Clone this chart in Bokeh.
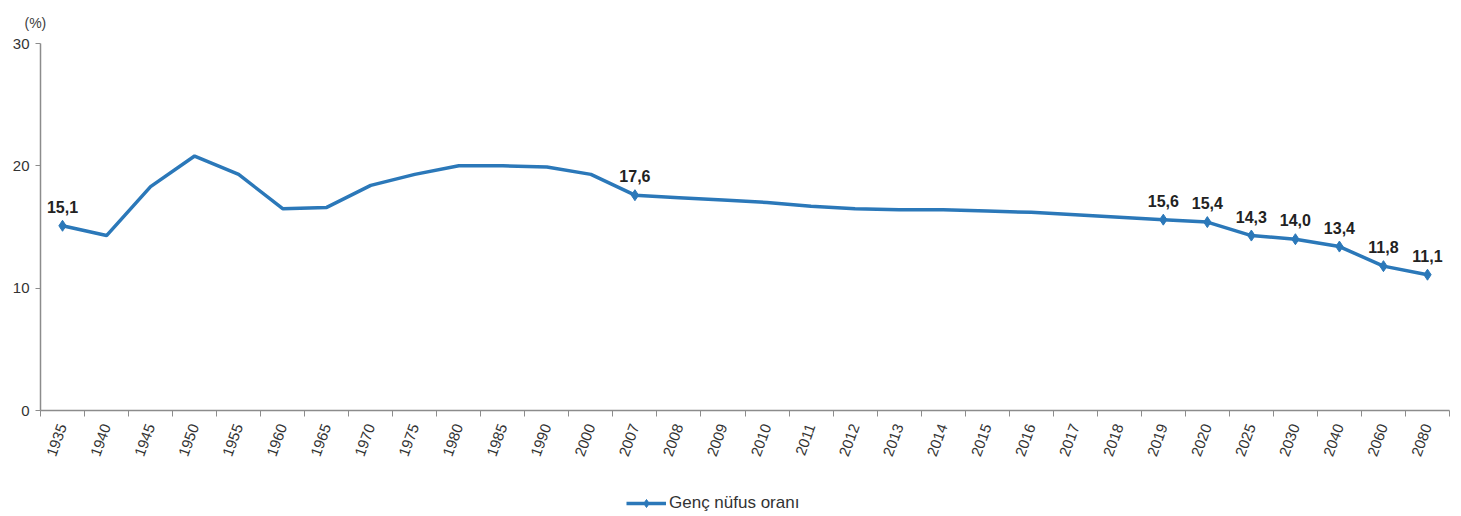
from bokeh.plotting import figure
from bokeh.layouts import column
from bokeh.models import (Range1d, FixedTicker, Legend, LegendItem, ColumnDataSource, Title)
from bokeh.core.properties import value
from bokeh.embed import file_html
from bokeh.resources import INLINE

years = ["1935", "1940", "1945", "1950", "1955", "1960", "1965", "1970", "1975", "1980",
         "1985", "1990", "2000", "2007", "2008", "2009", "2010", "2011", "2012", "2013",
         "2014", "2015", "2016", "2017", "2018", "2019", "2020", "2025", "2030", "2040",
         "2060", "2080"]
youth_share = [15.1, 14.3, 18.3, 20.8, 19.3, 16.5, 16.6, 18.4, 19.3, 20.0,
               20.0, 19.9, 19.3, 17.6, 17.4, 17.2, 17.0, 16.7, 16.5, 16.4,
               16.4, 16.3, 16.2, 16.0, 15.8, 15.6, 15.4, 14.3, 14.0, 13.4,
               11.8, 11.1]
labelled_years = ["1935", "2007", "2019", "2020", "2025", "2030", "2040", "2060", "2080"]
y_ticks = [0, 10, 20, 30]
series_name = "Genç nüfus oranı"

FONT = "Liberation Sans"
BLUE = "#2b78b9"
GREY = "#8c8c8c"
W = 1453

xs = list(range(len(years)))
src = ColumnDataSource(dict(x=xs, y=youth_share))
lab_idx = [years.index(y) for y in labelled_years]
lab_src = ColumnDataSource(dict(
    x=[xs[i] for i in lab_idx],
    y=[youth_share[i] for i in lab_idx],
    t=[f"{youth_share[i]:.1f}".replace(".", ",") for i in lab_idx],
))

p = figure(width=W, height=480, output_backend="svg", toolbar_location=None,
           x_range=Range1d(-0.5, len(years) - 0.5), y_range=Range1d(0, 30),
           min_border_left=40, min_border_right=4, min_border_top=42, min_border_bottom=70)
p.outline_line_color = None
p.xgrid.visible = False
p.ygrid.visible = False

t = Title(text="(%)", align="left", offset=-16, standoff=25, text_font=FONT,
          text_font_size="14px", text_font_style="normal", text_color="#404040")
p.add_layout(t, "above")

line = p.line("x", "y", source=src, line_color=BLUE, line_width=3.5)
pts = p.scatter("x", "y", source=lab_src, marker="diamond", size=11, fill_color=BLUE,
                line_color=BLUE)
p.text("x", "y", text="t", source=lab_src, text_align="center", text_baseline="bottom",
       y_offset=-13, text_font=value(FONT), text_font_size="16px", text_font_style="bold",
       text_color="#222222")

xa = p.xaxis[0]
xa.ticker = FixedTicker(ticks=xs, minor_ticks=[i - 0.5 for i in xs] + [len(xs) - 0.5])
xa.major_label_overrides = {i: y for i, y in zip(xs, years)}
xa.major_label_orientation = 1.22
xa.major_tick_line_color = None
xa.major_tick_out = 0
xa.minor_tick_line_color = GREY
xa.minor_tick_out = 6
xa.minor_tick_in = 0
xa.major_label_standoff = 8
xa.axis_line_color = GREY
xa.axis_line_width = 1.5
xa.major_label_text_font = FONT
xa.major_label_text_font_size = "15px"
xa.major_label_text_color = "#333333"

ya = p.yaxis[0]
ya.ticker = FixedTicker(ticks=y_ticks)
ya.minor_tick_line_color = None
ya.major_tick_out = 5
ya.major_tick_in = 0
ya.major_tick_line_color = GREY
ya.axis_line_color = GREY
ya.axis_line_width = 1.5
ya.major_label_standoff = 6
ya.major_label_text_font = FONT
ya.major_label_text_font_size = "15px"
ya.major_label_text_color = "#333333"

# legend strip below the chart (renderers hidden; they only supply the legend glyph)
lf = figure(width=W, height=34, output_backend="svg", toolbar_location=None,
            x_range=Range1d(0, 1), y_range=Range1d(0, 1),
            x_axis_type=None, y_axis_type=None, min_border=0)
lf.outline_line_color = None
lf.xgrid.visible = False
lf.ygrid.visible = False
l_line = lf.line("x", "y", source=src, line_color=BLUE, line_width=3.5, visible=False)
l_pts = lf.scatter("x", "y", source=lab_src, marker="diamond", size=11, fill_color=BLUE,
                   line_color=BLUE, visible=False)
legend = Legend(items=[LegendItem(label=series_name, renderers=[l_line, l_pts])],
                orientation="horizontal", location=(586, 1),
                label_text_font=FONT, label_text_font_size="17px", label_text_color="#333333",
                glyph_width=40, border_line_color=None, background_fill_alpha=0,
                margin=0, padding=0, spacing=0, label_standoff=3)
lf.add_layout(legend, "center")

layout = column(p, lf, spacing=0)
open("out.html", "w").write(file_html(layout, INLINE))
